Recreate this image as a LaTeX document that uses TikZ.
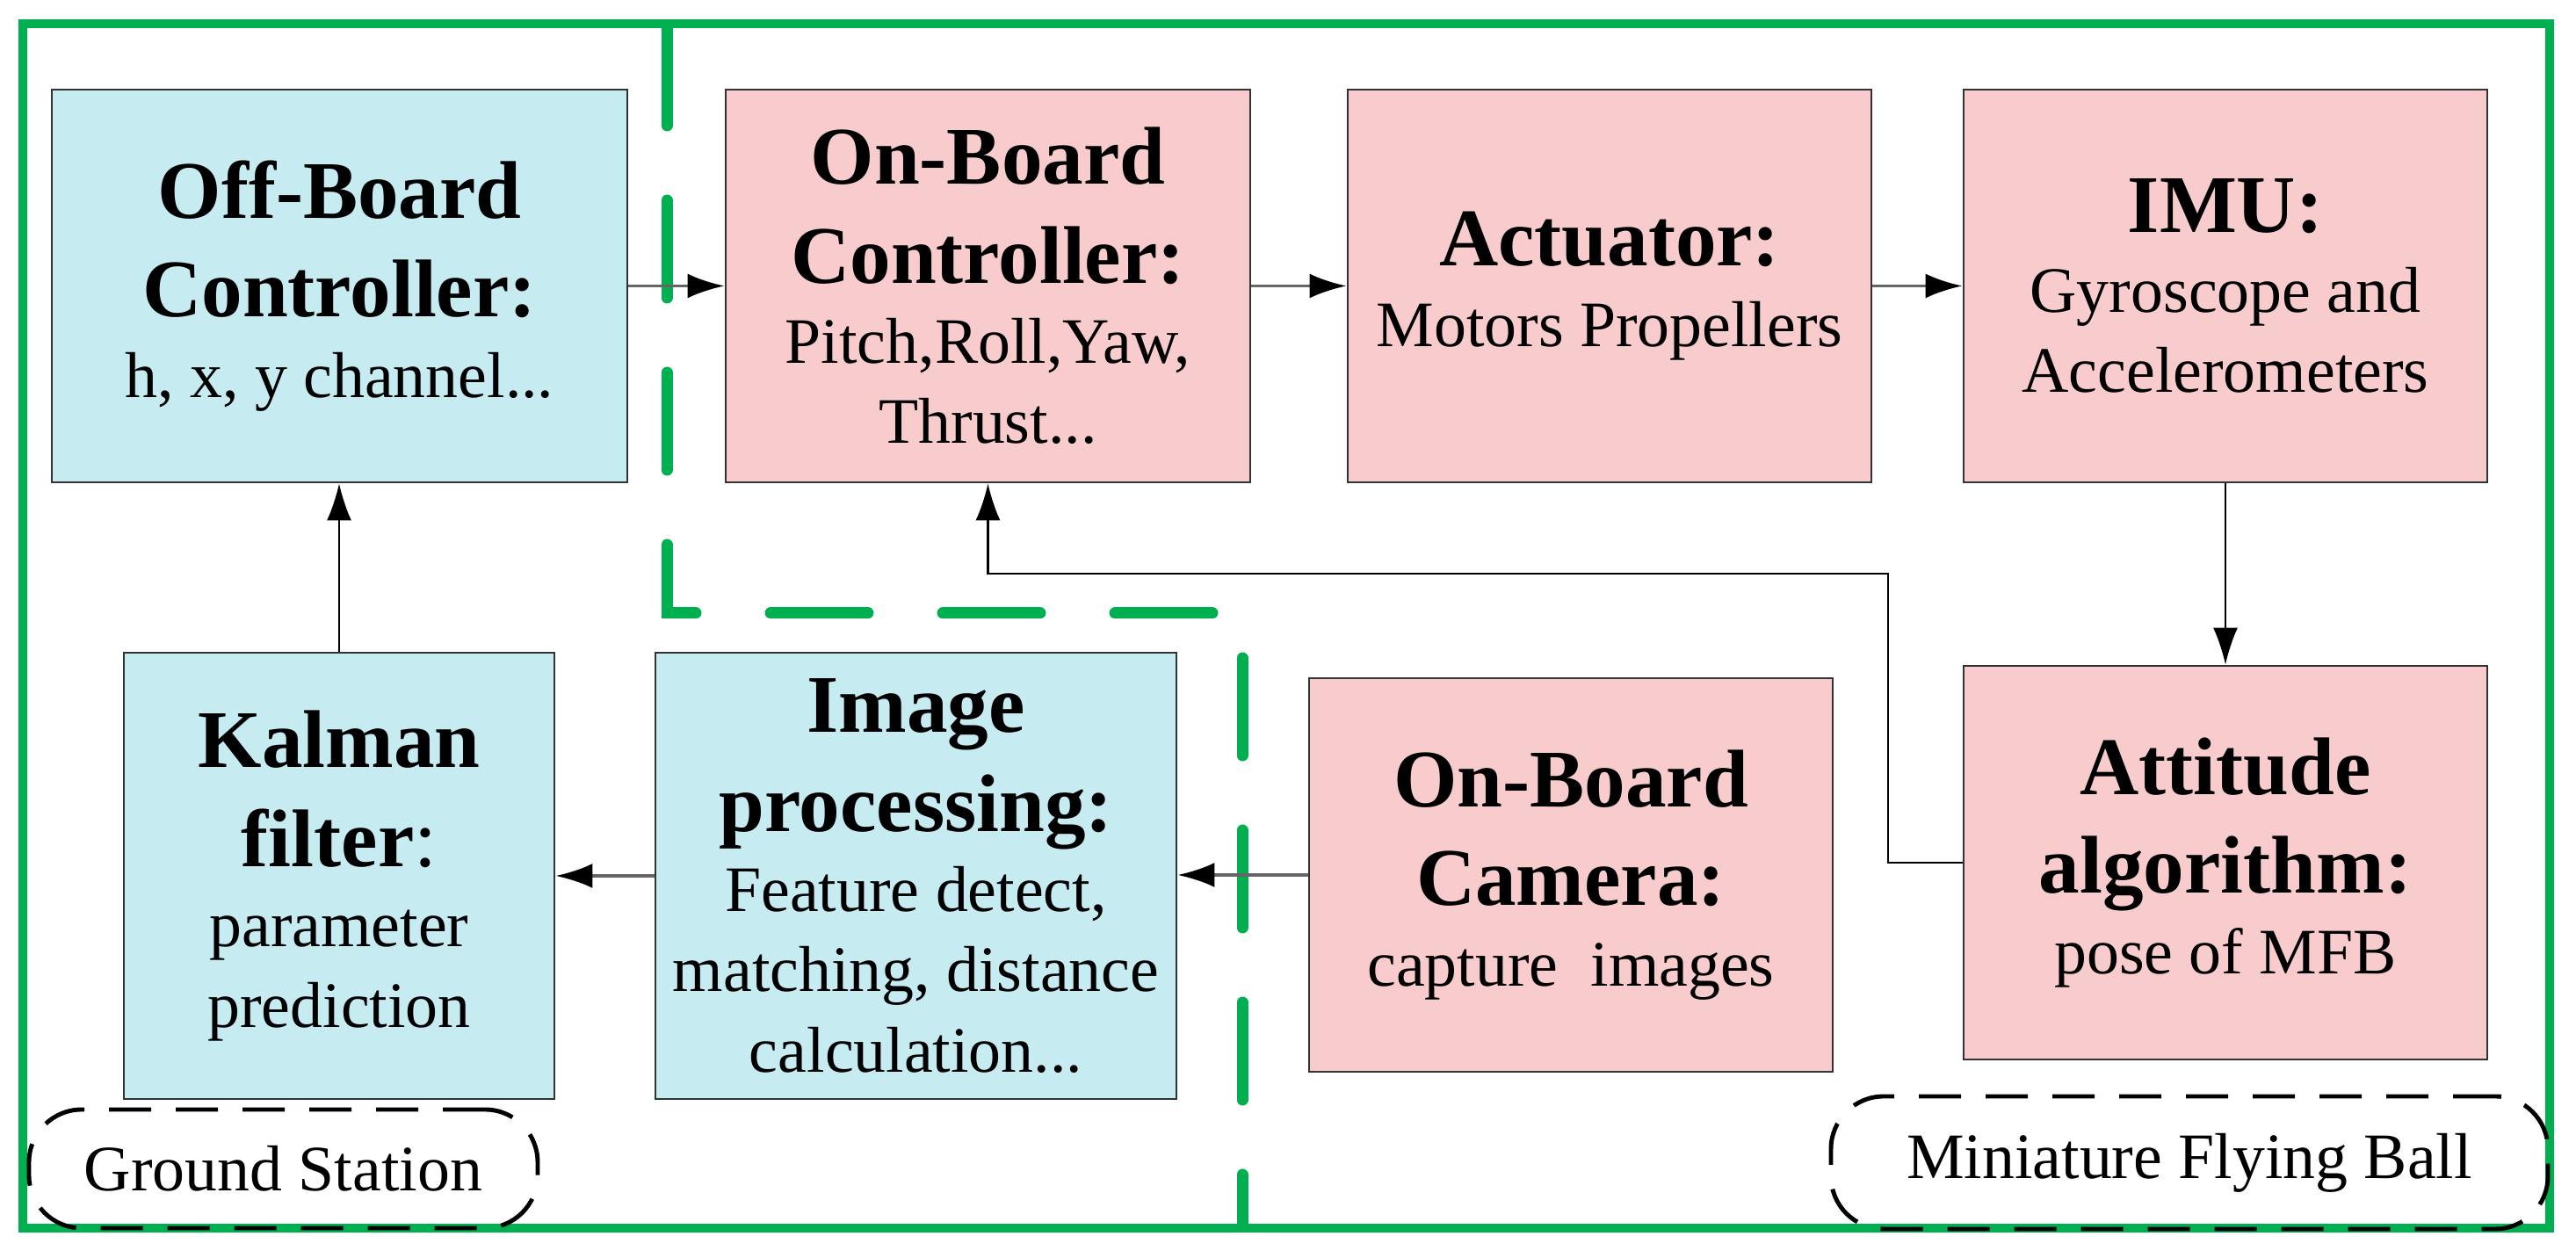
\documentclass[tikz,border=0pt]{standalone}
\usepackage{fontspec}
\setmainfont{Liberation Serif}
\usetikzlibrary{arrows.meta}
\tikzset{>={Latex[length=4.2mm,width=2.8mm,black]}}
\definecolor{groundblue}{RGB}{198,235,241}
\definecolor{ballpink}{RGB}{248,204,204}
\definecolor{zonegreen}{RGB}{0,176,80}
\tikzset{
  block/.style={draw=black!80, line width=0.8pt, align=center, inner sep=0pt,
    minimum width=5.96cm, minimum height=4.47cm, font=\fontsize{21}{26}\selectfont},
  groundblock/.style={block, fill=groundblue},
  ballblock/.style={block, fill=ballpink},
  tag/.style={draw=black, line width=1.4pt, dash pattern=on 0.48cm off 0.28cm,
    rounded corners=0.6cm, inner sep=0pt, font=\fontsize{21}{26}\selectfont},
  zone/.style={draw=zonegreen, line width=2.85pt},
  flow/.style={->, draw=black!60, line width=1.1pt},
  feed/.style={->, draw=black, line width=0.6pt}
}
\newcommand{\blocktitle}[1]{{\fontsize{26.5}{32}\selectfont\bfseries #1}}

\begin{document}
\begin{tikzpicture}
            \useasboundingbox (0,0) rectangle (29.32,14.32);

            \draw[zone] (0.26,0.34) rectangle (29.02,14.05);

            \node[tag, minimum width=5.79cm, minimum height=1.35cm] (gs) at (3.225,1.015) {Ground Station};
            \node[tag, minimum width=8.16cm, minimum height=1.51cm] (mfb) at (24.92,1.085) {Miniature Flying Ball};

            \draw[zone, line width=3.7pt, line cap=round, dash pattern=on 1.11cm off 0.85cm]
                (7.59,14.00) -- (7.59,7.34) -- (14.14,7.34) -- (14.14,0.37);

            \node[groundblock, minimum width=6.55cm] (offb) at (3.865,11.065)
                {\blocktitle{Off-Board}\\[6pt] \blocktitle{Controller:}\\ h, x, y channel...};
            \node[ballblock, minimum width=5.97cm] (onb) at (11.245,11.065)
                {\blocktitle{On-Board}\\[6pt] \blocktitle{Controller:}\\ Pitch,Roll,Yaw,\\ Thrust...};
            \node[ballblock] (act) at (18.32,11.065)
                {\blocktitle{Actuator:}\\ Motors Propellers};
            \node[ballblock] (imu) at (25.33,11.065)
                {\blocktitle{IMU:}\\ Gyroscope and\\ Accelerometers};

            \node[groundblock, minimum width=4.90cm, minimum height=5.08cm] (kal) at (3.86,4.35)
                {\blocktitle{Kalman}\\[6pt] \blocktitle{filter}{\fontsize{26.5}{32}\selectfont:}\\ parameter\\ prediction};
            \node[groundblock, minimum width=5.93cm, minimum height=5.08cm] (img) at (10.425,4.35)
                {\blocktitle{Image}\\[6pt] \blocktitle{processing:}\\ Feature detect,\\ matching, distance\\ calculation...};
            \node[ballblock, minimum height=4.48cm] (cam) at (17.88,4.36)
                {\blocktitle{On-Board}\\[6pt] \blocktitle{Camera:}\\ capture\ \ images};
            \node[ballblock, minimum height=4.48cm] (att) at (25.33,4.50)
                {\blocktitle{Attitude}\\[6pt] \blocktitle{algorithm:}\\ pose of MFB};

            \coordinate (fb) at (21.49,7.79);

            \draw[flow] (offb.east) -- (onb.west);
            \draw[flow] (onb.east) -- (act.west);
            \draw[flow] (act.east) -- (imu.west);
            \draw[feed] (imu.south) -- (att.north);
            \draw[feed] (att.west) -| (fb) -| (onb.south);
            \draw[flow] (cam.west) -- (cam.west -| img.east);
            \draw[flow] (img.west) -- (img.west -| kal.east);
            \draw[feed] (kal.north) -- (kal.north |- offb.south);
\end{tikzpicture}
\end{document}
